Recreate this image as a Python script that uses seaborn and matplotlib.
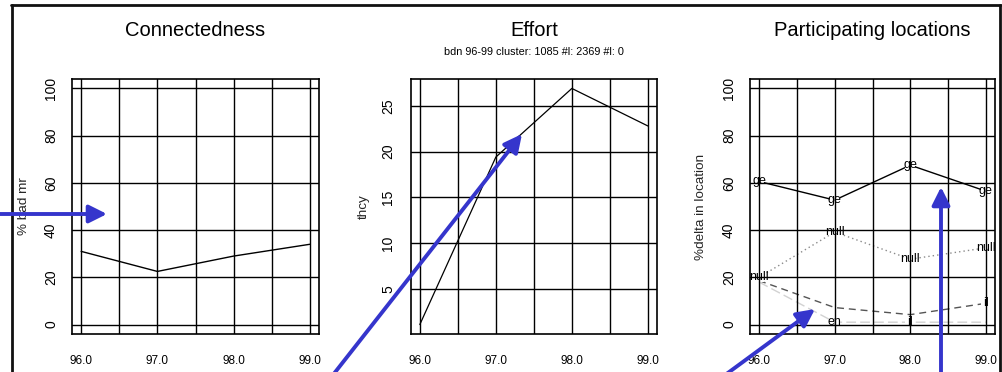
import matplotlib.pyplot as plt
import numpy as np
import pandas as pd
import seaborn as sns
from matplotlib.lines import Line2D
from matplotlib.patches import FancyArrowPatch

# values
years = [96, 97, 98, 99]
year_labels = ["96.0", "97.0", "98.0", "99.0"]
half_years = [96.5, 97.5, 98.5]

bad_mr = [31.0, 22.5, 29.0, 34.0]
thcy = [1.1, 19.4, 26.9, 22.8]

loc_names = ["ge", "null", "il", "en"]
loc_ge = [60.6, 52.7, 67.5, 56.5]
loc_null = [20.0, 39.2, 27.7, 32.5]
loc_il = [18.6, 7.2, 4.2, 9.0]
loc_en = [18.0, 1.0, 1.0, 1.0]
lab_ge = ["ge", "ge", "ge", "ge"]
lab_null = ["null", "null", "null", "null"]
lab_il = [None, None, None, "il"]
lab_en = [None, "en", "il", None]

pct_ticks = [0, 20, 40, 60, 80, 100]
thcy_ticks = [5, 10, 15, 20, 25]

titles = ["Connectedness", "Effort", "Participating locations"]
subtitle = "bdn 96-99 cluster: 1085 #l: 2369 #l: 0"
ylabels = ["% bad mr", "thcy", "%delta in location"]

sns.set_theme(style = "white")
FONT = ["Liberation Sans", "DejaVu Sans"]
plt.rcParams["font.family"] = FONT
plt.rcParams["text.color"] = "black"
plt.rcParams["xtick.color"] = "black"
plt.rcParams["ytick.color"] = "black"

W, H = 1002, 372
fig = plt.figure(figsize = (W / 100, H / 100), dpi = 100)
fig.patch.set_facecolor("white")


def px_axes(left, right, top = 79, bottom = 334):
    return fig.add_axes([left / W, 1 - bottom / H, (right - left) / W, (bottom - top) / H])


def r_range(vals):
    # R style 4% padding round the data range
    lo, hi = min(vals), max(vals)
    pad = 0.04 * (hi - lo)
    return lo - pad, hi + pad


def style_panel(ax, yticks, ylim, ylabel, tick_pad, label_x, title):
    ax.set_xlim(*r_range(years))
    ax.set_ylim(*ylim)
    ax.set_xticks(years)
    ax.set_xticklabels(year_labels)
    ax.set_xticks(half_years, minor = True)
    ax.set_yticks(yticks)
    ax.set_yticklabels([str(t) for t in yticks], rotation = 90, va = "center", fontsize = 10)
    ax.grid(which = "both", color = "black", lw = 1.0)
    ax.set_axisbelow(False)
    ax.tick_params(which = "both", length = 0)
    ax.tick_params(axis = "x", pad = 15, labelsize = 8.5)
    ax.tick_params(axis = "y", pad = tick_pad)
    for s in ax.spines.values():
        s.set_visible(True)
        s.set_color("black")
        s.set_linewidth(1.2)
    ax.set_xlabel("")
    ax.set_ylabel(ylabel, fontsize = 9.7, va = "center")
    ax.yaxis.set_label_coords(label_x, 0.5)
    ax.set_title(title, fontsize = 14.5, pad = 31)


# Connectedness
ax1 = px_axes(72, 319)
sns.lineplot(x = years, y = bad_mr, ax = ax1, color = "black", lw = 1.0)
style_panel(ax1, pct_ticks, r_range([0, 100]), ylabels[0], 10, -0.194, titles[0])

# Effort
ax2 = px_axes(410.7, 657)
sns.lineplot(x = years, y = thcy, ax = ax2, color = "black", lw = 0.9)
style_panel(ax2, thcy_ticks, r_range(thcy), ylabels[1], 11, -0.19, titles[1])
ax2.annotate(subtitle, xy = (0.5, 1), xycoords = "axes fraction", xytext = (0, 17),
             textcoords = "offset points", ha = "center", va = "baseline", fontsize = 7.8)

# Participating locations
ax3 = px_axes(750, 995)
loc_df = pd.DataFrame({
    "year": years * 4,
    "pct": loc_ge + loc_null + loc_il + loc_en,
    "loc": np.repeat(loc_names, len(years)),
    "label": lab_ge + lab_null + lab_il + lab_en,
})
palette = {"ge": "black", "null": "#8a8a8a", "il": "#555555", "en": "#d2d2d2"}
dashes = {"ge": "", "null": (1, 2.2), "il": (5, 3.5), "en": (7, 3)}
sns.lineplot(data = loc_df, x = "year", y = "pct", hue = "loc", style = "loc", palette = palette,
             dashes = dashes, ax = ax3, lw = 1.0, legend = False)
style_panel(ax3, pct_ticks, r_range([0, 100]), ylabels[2], 10, -0.20, titles[2])

# white squares under the grid give the R type "b" gap in the line at each label
labelled = loc_df.dropna(subset = ["label"])
sns.scatterplot(data = labelled, x = "year", y = "pct", ax = ax3, color = "white", marker = "s",
                s = 55, linewidth = 0, zorder = 2.2, legend = False)
ax3.set_xlabel("")
ax3.set_ylabel(ylabels[2], fontsize = 9.7, va = "center")
for _, row in labelled.iterrows():
    ax3.text(row["year"], row["pct"], row["label"], ha = "center", va = "center", fontsize = 9, zorder = 5)

# outer frame lines
frame = [([11, 1001], [5, 5]), ([12, 12], [5, 372]), ([1000, 1000], [5, 372])]
for xs, ys in frame:
    fig.add_artist(Line2D([x / W for x in xs], [1 - y / H for y in ys], transform = fig.transFigure,
                          color = "#111111", lw = 2.0))

# blue pointer arrows
arrows = [((-5, 214), (107, 214)), ((329, 380), (522, 134)), ((721, 378), (815, 309)), ((941, 380), (941, 187))]
for (x0, y0), (x1, y1) in arrows:
    fig.add_artist(FancyArrowPatch((x0 / W, 1 - y0 / H), (x1 / W, 1 - y1 / H), transform = fig.transFigure,
                                   arrowstyle = "-|>,head_length=0.6,head_width=0.3", mutation_scale = 18,
                                   color = "#3535cc", lw = 2.8, shrinkA = 0, shrinkB = 0, zorder = 10))

fig.savefig("out.png", dpi = 100)
plt.close()
